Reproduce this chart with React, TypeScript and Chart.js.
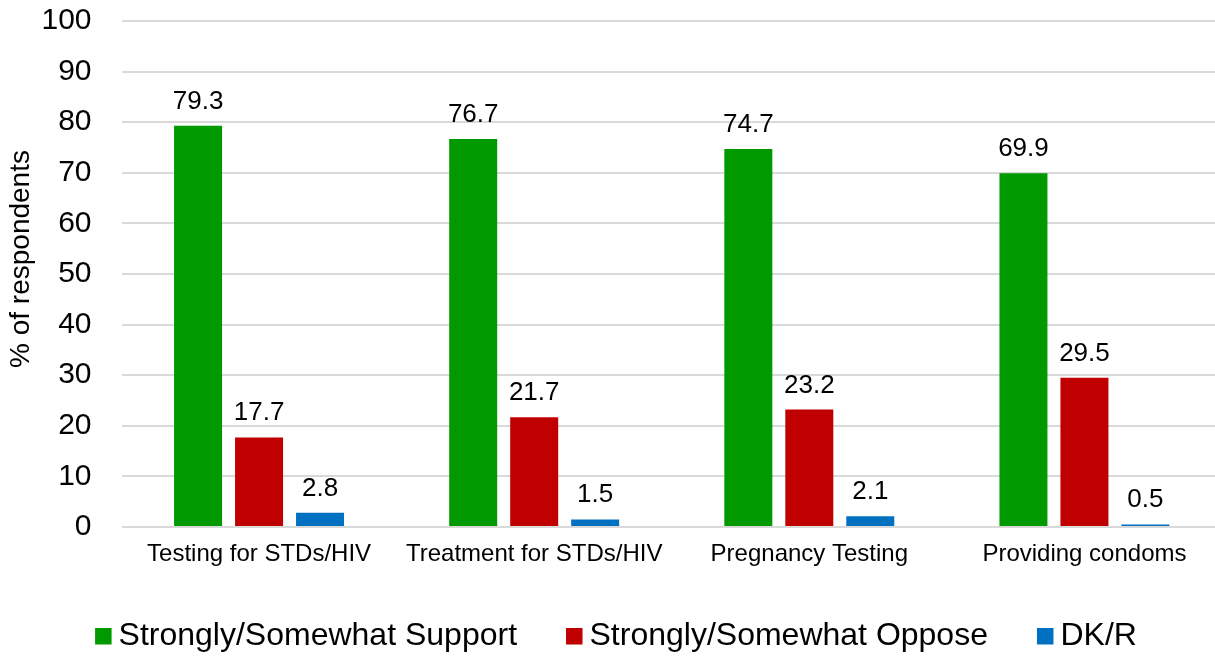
import React, { useEffect, useRef } from "react";
import { Chart, registerables } from "chart.js";

Chart.register(...registerables);

const categories = ["Testing for STDs/HIV", "Treatment for STDs/HIV", "Pregnancy Testing", "Providing condoms"];
const supportValues = [79.3, 76.7, 74.7, 69.9];
const opposeValues = [17.7, 21.7, 23.2, 29.5];
const dkrValues = [2.8, 1.5, 2.1, 0.5];
const seriesNames = ["Strongly/Somewhat Support", "Strongly/Somewhat Oppose", "DK/R"];
const seriesColors = ["#009900", "#C00000", "#0070C0"];
const yTicks = [0, 10, 20, 30, 40, 50, 60, 70, 80, 90, 100];
const yTitle = "% of respondents";

const FONT = "'Liberation Sans', Arial, sans-serif";

const valueLabels = {
  id: "valueLabels",
  afterDatasetsDraw(chart: any) {
    const ctx = chart.ctx;
    ctx.save();
    ctx.font = `26px ${FONT}`;
    ctx.fillStyle = "#000";
    ctx.textAlign = "center";
    ctx.textBaseline = "alphabetic";
    chart.data.datasets.forEach((ds: any, i: number) => {
      const meta = chart.getDatasetMeta(i);
      meta.data.forEach((bar: any, j: number) => {
        ctx.fillText(ds.data[j].toFixed(1), bar.x, bar.y - 17);
      });
    });
    ctx.restore();
  },
};

const customDecor = {
  id: "customDecor",
  afterDraw(chart: any) {
    const ctx = chart.ctx;
    ctx.save();
    ctx.font = `28px ${FONT}`;
    ctx.fillStyle = "#000";
    ctx.textAlign = "center";
    ctx.textBaseline = "middle";
    ctx.translate(21, 259);
    ctx.rotate(-Math.PI / 2);
    ctx.fillText(yTitle, 0, 0);
    ctx.restore();

    ctx.save();
    ctx.font = `32px ${FONT}`;
    ctx.textBaseline = "alphabetic";
    ctx.textAlign = "left";
    const box = 16.5;
    const gapBoxText = 7;
    const gapItems = 49;
    const items = chart.data.datasets.map((ds: any) => ({
      label: ds.label,
      color: ds.backgroundColor,
      w: box + gapBoxText + ctx.measureText(ds.label).width,
    }));
    const total = items.reduce((s: number, it: any) => s + it.w, 0) + gapItems * (items.length - 1);
    let x = 616 - total / 2;
    items.forEach((it: any) => {
      ctx.fillStyle = it.color;
      ctx.fillRect(x, 628, box, box);
      ctx.fillStyle = "#000";
      ctx.fillText(it.label, x + box + gapBoxText, 645);
      x += it.w + gapItems;
    });
    ctx.restore();
  },
};

export default function App() {
  const ref = useRef<HTMLCanvasElement>(null);
  useEffect(() => {
    const chart = new Chart(ref.current!, {
      type: "bar",
      data: {
        labels: categories,
        datasets: [
          { label: seriesNames[0], data: supportValues, backgroundColor: seriesColors[0] },
          { label: seriesNames[1], data: opposeValues, backgroundColor: seriesColors[1] },
          { label: seriesNames[2], data: dkrValues, backgroundColor: seriesColors[2] },
        ],
      },
      options: {
        animation: false,
        responsive: false,
        maintainAspectRatio: false,
        layout: { padding: { top: 21, right: 2, left: 0, bottom: 60 } },
        datasets: { bar: { categoryPercentage: 0.665, barPercentage: 0.787 } },
        plugins: {
          tooltip: { enabled: false },
          legend: { display: false },
        },
        scales: {
          x: {
            afterFit: (axis: any) => {
              axis.height = 69;
              axis.paddingLeft = 0;
              axis.paddingRight = 0;
            },
            grid: { display: false, drawTicks: false },
            border: { display: false },
            ticks: { font: { family: FONT, size: 24 }, color: "#000", padding: 13, maxRotation: 0 },
          },
          y: {
            min: 0,
            max: 100,
            afterFit: (axis: any) => {
              axis.width = 121.5;
              axis.paddingTop = 0;
              axis.paddingBottom = 0;
            },
            afterBuildTicks: (axis: any) => {
              axis.ticks = yTicks.map((v) => ({ value: v }));
            },
            grid: { color: "#d9d9d9", lineWidth: 2, drawTicks: false },
            border: { display: false },
            ticks: { font: { family: FONT, size: 30 }, color: "#000", padding: 30 },
          },
        },
      },
      plugins: [valueLabels, customDecor],
    });
    return () => chart.destroy();
  }, []);
  return (
    <div style={{ position: "fixed", left: 0, top: 0, width: 1215, height: 656, overflow: "hidden", background: "#fff" }}>
      <canvas ref={ref} width={1224} height={656} style={{ display: "block" }} />
    </div>
  );
}
